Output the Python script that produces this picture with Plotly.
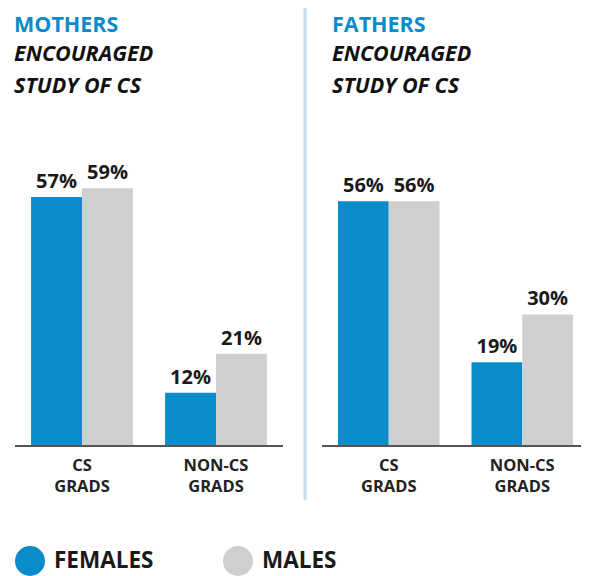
import plotly.graph_objects as go
from plotly.subplots import make_subplots

groups = ["CS<br>GRADS", "NON-CS<br>GRADS"]
mothers_females = [57, 12]
mothers_males = [59, 21]
fathers_females = [56, 19]
fathers_males = [56, 30]
panel_titles = ["MOTHERS", "FATHERS"]
subtitle_lines = ["ENCOURAGED", "STUDY OF CS"]
legend_names = ["FEMALES", "MALES"]

BLUE = "#0a8bcb"
GRAY = "#cdcfd1"
FONT = "Open Sans"
OFF = 8  # page body margin
W, H = 589 - OFF, 576 - OFF


def px_x(x):
    return (x - OFF) / W


def px_y(y):
    return 1 - (y - OFF) / H


fig = make_subplots(rows=1, cols=2)

for col, (fem, mal) in enumerate([(mothers_females, mothers_males),
                                  (fathers_females, fathers_males)], start=1):
    for vals, color, name in [(fem, BLUE, legend_names[0]), (mal, GRAY, legend_names[1])]:
        fig.add_trace(go.Bar(
            x=groups, y=vals, name=name, marker_color=color, marker_line_width=0,
            text=[f"<b>{v}%</b>" for v in vals], textposition="outside",
            textfont=dict(family=FONT, size=20, color="#1a1a1a"),
            cliponaxis=False, showlegend=False,
        ), row=1, col=col)

y_top = px_y(100)
y_bot = px_y(445)
fig.update_layout(
    width=W, height=H, margin=dict(l=0, r=0, t=0, b=0),
    paper_bgcolor="white", plot_bgcolor="white",
    barmode="group", bargap=0.24, bargroupgap=0,
    xaxis=dict(domain=[px_x(15), px_x(283)]),
    xaxis2=dict(domain=[px_x(322), px_x(589)]),
    yaxis=dict(domain=[y_bot, y_top]),
    yaxis2=dict(domain=[y_bot, y_top]),
)
fig.update_xaxes(showline=True, linecolor="#555555", linewidth=1.5, ticks="",
                 showgrid=False, zeroline=False, ticklabelstandoff=4,
                 tickfont=dict(family=FONT, size=16.5, color="#222222"),
                 tickprefix="<b>", ticksuffix="</b>")
fig.update_yaxes(range=[0, 79.3], visible=False, showgrid=False, zeroline=False)

# panel headings
for x0, title in [(12, panel_titles[0]), (330, panel_titles[1])]:
    fig.add_annotation(x=px_x(x0), y=px_y(23), xref="paper", yref="paper",
                       xanchor="left", yanchor="middle", showarrow=False,
                       text=f"<b>{title}</b>",
                       font=dict(family=FONT, size=21.5, color=BLUE))
    for yy, line in zip([53, 85], subtitle_lines):
        fig.add_annotation(x=px_x(x0), y=px_y(yy), xref="paper", yref="paper",
                           xanchor="left", yanchor="middle", showarrow=False,
                           text=f"<b><i>{line}</i></b>",
                           font=dict(family=FONT, size=21.5, color="#111111"))

# divider
fig.add_shape(type="line", xref="paper", yref="paper",
              x0=px_x(305), x1=px_x(305), y0=px_y(5), y1=px_y(500),
              line=dict(color="#c8dbef", width=3))

# legend
for cx, color, name in [(30, BLUE, legend_names[0]), (238, GRAY, legend_names[1])]:
    r = 15
    fig.add_shape(type="circle", xref="paper", yref="paper",
                  x0=px_x(cx - r), x1=px_x(cx + r), y0=px_y(561 + r), y1=px_y(561 - r),
                  fillcolor=color, line_width=0)
    fig.add_annotation(x=px_x(cx + 22), y=px_y(559), xref="paper", yref="paper",
                       xanchor="left", yanchor="middle", showarrow=False,
                       text=f"<b>{name}</b>",
                       font=dict(family=FONT, size=22.5, color="#1a1a1a"))

fig.write_html("out.html")
